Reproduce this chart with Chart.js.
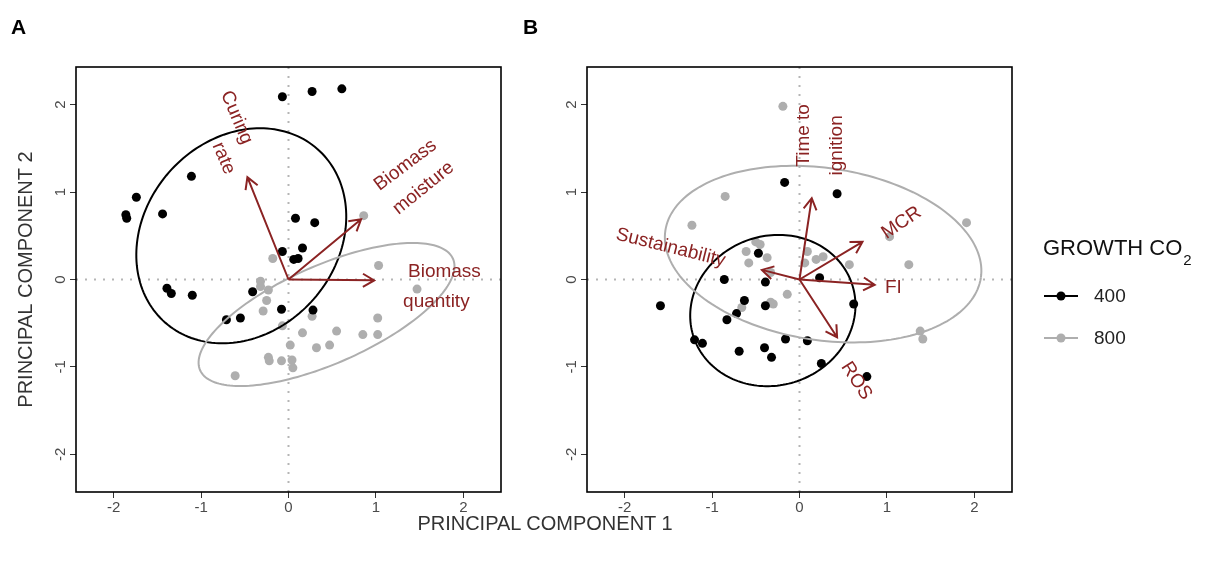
<!DOCTYPE html>
<html>
<head>
<meta charset="utf-8">
<script src="https://cdn.jsdelivr.net/npm/chart.js@4.4.1/dist/chart.umd.min.js"></script>
<style>
  body { margin: 0; background: #fff; font-family: "Liberation Sans", Arial, sans-serif; }
  #wrap { position: relative; width: 1216px; height: 561px; overflow: hidden; }
  .panel { position: absolute; top: 0; height: 561px; }
  #boxA { left: 0; width: 520px; }
  #boxB { left: 520px; width: 696px; }
  .tag { position: absolute; top: 16px; font-weight: bold; font-size: 21px; line-height: 21px; color: #000; }
  #xtitle { position: absolute; top: 513px; left: 0; width: 1090px; text-align: center;
            font-size: 20px; line-height: 20px; color: #333; }
</style>
</head>
<body>
<div id="wrap">
  <div class="panel" id="boxA"><canvas id="chartA"></canvas></div>
  <div class="panel" id="boxB"><canvas id="chartB"></canvas></div>
  <div class="tag" style="left:11px">A</div>
  <div class="tag" style="left:523px">B</div>
  <div id="xtitle">PRINCIPAL COMPONENT 1</div>
</div>
<script>
// axis
var tickValues = [-2, -1, 0, 1, 2];
var axisMin = -2.43, axisMax = 2.43;

// panel A scores (PC1, PC2)
var scoresA400 = [[-0.07, 2.09], [0.27, 2.15], [0.61, 2.18], [-1.11, 1.18], [-1.74, 0.94],
  [-1.86, 0.74], [-1.85, 0.70], [-1.44, 0.75], [-0.07, 0.32], [-1.39, -0.10], [-1.34, -0.16],
  [-1.10, -0.18], [-0.41, -0.14], [-0.71, -0.46], [-0.55, -0.44], [-0.08, -0.34], [0.08, 0.70],
  [0.30, 0.65], [0.16, 0.36], [0.06, 0.23], [0.11, 0.24], [0.28, -0.35]];
var scoresA800 = [[0.86, 0.73], [1.03, 0.16], [1.47, -0.11], [1.02, -0.44], [1.02, -0.63],
  [0.85, -0.63], [0.55, -0.59], [0.47, -0.75], [0.32, -0.78], [0.27, -0.42], [0.16, -0.61],
  [0.02, -0.75], [0.04, -0.92], [0.05, -1.01], [-0.08, -0.93], [-0.07, -0.53], [-0.61, -1.10],
  [-0.23, -0.89], [-0.22, -0.93], [-0.29, -0.36], [-0.25, -0.24], [-0.23, -0.12], [-0.32, -0.02],
  [-0.32, -0.08], [-0.18, 0.24]];

// panel B scores
var scoresB400 = [[-0.17, 1.11], [0.43, 0.98], [-0.47, 0.30], [-0.86, 0.00], [-0.39, -0.03],
  [0.23, 0.02], [-1.59, -0.30], [-0.63, -0.24], [-0.39, -0.30], [-0.72, -0.39], [-0.83, -0.46],
  [-1.20, -0.69], [-1.11, -0.73], [-0.69, -0.82], [-0.40, -0.78], [-0.32, -0.89], [-0.16, -0.68],
  [0.09, -0.70], [0.25, -0.96], [0.62, -0.28], [0.77, -1.11]];
var scoresB800 = [[-0.19, 1.98], [-0.85, 0.95], [-1.23, 0.62], [-0.50, 0.43], [-0.45, 0.40],
  [-0.61, 0.32], [-0.37, 0.25], [-0.58, 0.19], [-0.33, 0.08], [-0.14, -0.17], [-0.33, -0.26],
  [-0.30, -0.28], [-0.66, -0.32], [0.09, 0.32], [0.06, 0.19], [0.19, 0.23], [0.27, 0.26],
  [0.57, 0.17], [1.03, 0.49], [1.25, 0.17], [1.91, 0.65], [1.38, -0.59], [1.41, -0.68]];

// 95% ellipses: centre x, centre y, semi-axis a, semi-axis b, angle (deg)
var ellipseA400 = [-0.54, 0.50, 1.32, 1.10, 48.8];
var ellipseA800 = [0.435, -0.40, 1.58, 0.56, 23.8];
var ellipseB400 = [-0.305, -0.355, 0.955, 0.854, 18.9];
var ellipseB800 = [0.27, 0.29, 1.824, 0.984, -8.5];

// loadings (arrow tips)
var loadNamesA = ['Curing rate', 'Biomass moisture', 'Biomass quantity'];
var loadA = [[-0.47, 1.17], [0.83, 0.69], [0.98, -0.01]];
var loadNamesB = ['Time to ignition', 'MCR', 'FI', 'ROS', 'Sustainability'];
var loadB = [[0.14, 0.93], [0.72, 0.43], [0.86, -0.06], [0.43, -0.66], [-0.43, 0.11]];

var groups = ['400', '800'];

// label placement (text, x, y, rotation in degrees)
var labelsA = [['Curing', -0.594, 1.852, 67], ['rate', -0.743, 1.386, 67],
  ['Biomass', 1.337, 1.307, -37], ['moisture', 1.543, 1.045, -39],
  ['Biomass', 1.783, 0.091, 0], ['quantity', 1.691, -0.25, 0]];
var labelsB = [['Time to', 0.046, 1.648, -90], ['ignition', 0.423, 1.534, -90],
  ['MCR', 1.166, 0.648, -34], ['FI', 1.074, -0.091, 0], ['ROS', 0.651, -1.159, 57],
  ['Sustainability', -1.474, 0.364, 14]];

var BLACK = '#000000', GREY = '#aeaeae', RED = '#8b2323';
var FONT = "'Liberation Sans', Arial, sans-serif";

function toPts(arr) { return arr.map(function (p) { return { x: p[0], y: p[1] }; }); }

var biplot = {
  id: 'biplot',
  beforeDatasetsDraw: function (chart) {
    var ctx = chart.ctx, xs = chart.scales.x, ys = chart.scales.y, a = chart.chartArea;
    var x0 = xs.getPixelForValue(0), y0 = ys.getPixelForValue(0);
    ctx.save();
    ctx.strokeStyle = '#b5b5b5';
    ctx.lineWidth = 2;
    ctx.setLineDash([2, 7]);
    ctx.beginPath();
    ctx.moveTo(x0, a.top); ctx.lineTo(x0, a.bottom);
    ctx.moveTo(a.left, y0); ctx.lineTo(a.right, y0);
    ctx.stroke();
    ctx.restore();
  },
  afterDatasetsDraw: function (chart, args, opts) {
    var ctx = chart.ctx, xs = chart.scales.x, ys = chart.scales.y;
    ctx.save();
    // ellipses
    opts.ellipses.forEach(function (e) {
      var p = e.params, th = p[4] * Math.PI / 180;
      ctx.strokeStyle = e.color;
      ctx.lineWidth = 2;
      ctx.beginPath();
      for (var i = 0; i <= 180; i++) {
        var t = i / 180 * 2 * Math.PI;
        var ex = p[0] + p[2] * Math.cos(th) * Math.cos(t) - p[3] * Math.sin(th) * Math.sin(t);
        var ey = p[1] + p[2] * Math.sin(th) * Math.cos(t) + p[3] * Math.cos(th) * Math.sin(t);
        var px = xs.getPixelForValue(ex), py = ys.getPixelForValue(ey);
        if (i === 0) ctx.moveTo(px, py); else ctx.lineTo(px, py);
      }
      ctx.stroke();
    });
    // arrows
    var ox = xs.getPixelForValue(0), oy = ys.getPixelForValue(0);
    ctx.strokeStyle = RED;
    ctx.lineWidth = 2;
    opts.arrows.forEach(function (l) {
      var tx = xs.getPixelForValue(l[0]), ty = ys.getPixelForValue(l[1]);
      var ang = Math.atan2(ty - oy, tx - ox), hl = 13, ha = Math.PI / 6;
      ctx.beginPath();
      ctx.moveTo(ox, oy); ctx.lineTo(tx, ty);
      ctx.moveTo(tx - hl * Math.cos(ang - ha), ty - hl * Math.sin(ang - ha));
      ctx.lineTo(tx, ty);
      ctx.lineTo(tx - hl * Math.cos(ang + ha), ty - hl * Math.sin(ang + ha));
      ctx.stroke();
    });
    // labels
    ctx.fillStyle = RED;
    ctx.font = '19px ' + FONT;
    ctx.textAlign = 'center';
    ctx.textBaseline = 'middle';
    opts.labels.forEach(function (l) {
      ctx.save();
      ctx.translate(xs.getPixelForValue(l[1]), ys.getPixelForValue(l[2]));
      ctx.rotate(l[3] * Math.PI / 180);
      ctx.fillText(l[0], 0, 0);
      ctx.restore();
    });
    ctx.restore();
  },
  afterDraw: function (chart, args, opts) {
    var ctx = chart.ctx, a = chart.chartArea;
    ctx.save();
    ctx.strokeStyle = '#000';
    ctx.lineWidth = 1.6;
    ctx.strokeRect(a.left, a.top, a.right - a.left, a.bottom - a.top);
    if (opts.legend) {
      var lx = a.right + 31;
      ctx.fillStyle = '#111';
      ctx.textAlign = 'left';
      ctx.textBaseline = 'alphabetic';
      ctx.font = '22px ' + FONT;
      ctx.fillText('GROWTH CO', lx, 255);
      var w = ctx.measureText('GROWTH CO').width;
      ctx.font = '15px ' + FONT;
      ctx.fillText('2', lx + w + 1, 265);
      [[BLACK, 296], [GREY, 338]].forEach(function (it, i) {
        ctx.strokeStyle = it[0];
        ctx.fillStyle = it[0];
        ctx.lineWidth = 2;
        ctx.beginPath();
        ctx.moveTo(lx + 1, it[1]); ctx.lineTo(lx + 35, it[1]);
        ctx.stroke();
        ctx.beginPath();
        ctx.arc(lx + 18, it[1], 4.5, 0, 2 * Math.PI);
        ctx.fill();
        ctx.fillStyle = '#222';
        ctx.font = '19px ' + FONT;
        ctx.textBaseline = 'middle';
        ctx.fillText(groups[i], lx + 51, it[1] + 1);
      });
    }
    ctx.restore();
  }
};

function axis(isX, yWidth, withTitle) {
  var s = {
    type: 'linear',
    min: axisMin,
    max: axisMax,
    position: isX ? 'bottom' : 'left',
    afterBuildTicks: function (sc) { sc.ticks = tickValues.map(function (v) { return { value: v }; }); },
    afterFit: function (sc) { if (isX) sc.height = 69; else sc.width = yWidth; },
    border: { display: false },
    grid: { drawOnChartArea: false, drawTicks: true, tickLength: 6, color: '#333', tickColor: '#333', tickWidth: 1 },
    ticks: { color: '#4a4a4a', font: { family: FONT, size: 15 }, padding: isX ? 1 : 2 }
  };
  if (!isX) {
    s.ticks.minRotation = 90;
    s.ticks.maxRotation = 90;
    s.ticks.crossAlign = 'center';
  }
  if (withTitle) {
    s.title = { display: true, text: 'PRINCIPAL COMPONENT 2', color: '#333',
      font: { family: FONT, size: 20 }, padding: { top: 14, bottom: 0 } };
  }
  return s;
}

function makeChart(id, s400, s800, ellipses, arrows, labels, yWidth, padRight, withTitle, legend) {
  return new Chart(document.getElementById(id), {
    type: 'scatter',
    data: {
      datasets: [
        { label: groups[0], data: toPts(s400), backgroundColor: BLACK, pointRadius: 4.5, pointBorderWidth: 0 },
        { label: groups[1], data: toPts(s800), backgroundColor: GREY, pointRadius: 4.5, pointBorderWidth: 0 }
      ]
    },
    options: {
      responsive: true,
      maintainAspectRatio: false,
      animation: false,
      devicePixelRatio: 1,
      layout: { padding: { left: 0, right: padRight, top: 67, bottom: 0 } },
      scales: { x: axis(true), y: axis(false, yWidth, withTitle) },
      plugins: {
        legend: { display: false },
        tooltip: { enabled: false },
        biplot: { ellipses: ellipses, arrows: arrows, labels: labels, legend: legend }
      }
    },
    plugins: [biplot]
  });
}

makeChart('chartA', scoresA400, scoresA800,
  [{ params: ellipseA400, color: BLACK }, { params: ellipseA800, color: GREY }],
  loadA, labelsA, 76, 19, true, false);
makeChart('chartB', scoresB400, scoresB800,
  [{ params: ellipseB400, color: BLACK }, { params: ellipseB800, color: GREY }],
  loadB, labelsB, 67, 204, false, true);
</script>
</body>
</html>
